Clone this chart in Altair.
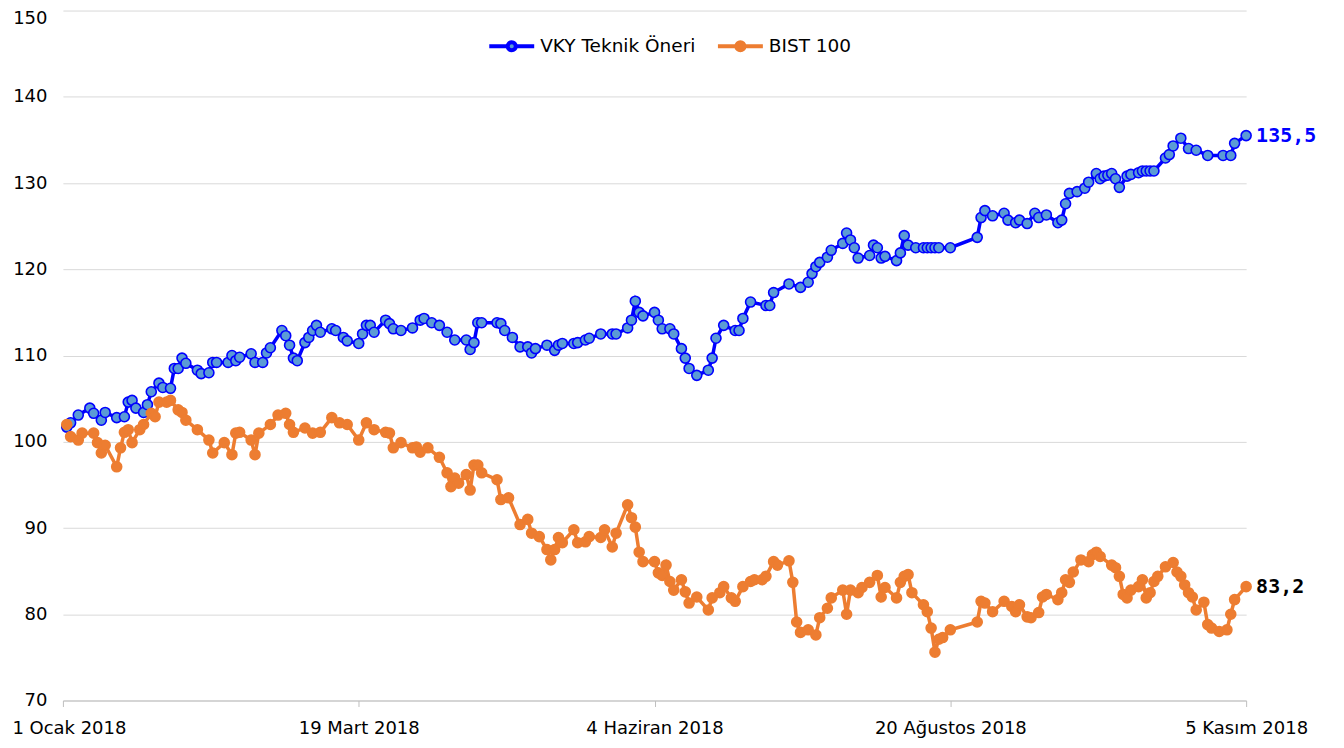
import json
import altair as alt
import pandas as pd

# ---- data ----
seri_adlari = ["VKY Teknik Öneri", "BIST 100"]

# days since 1 Ocak 2018 and index values
vky_gun = [1, 2, 4, 7, 8, 10, 11, 14, 16, 17, 18, 19, 21, 22, 23, 25, 26, 28, 29, 30,
           31, 32, 35, 36, 38, 39, 40, 43, 44, 45, 46, 49, 50, 52, 53, 54, 57, 58, 59, 60,
           61, 63, 64, 65, 66, 67, 70, 71, 73, 74, 77, 78, 79, 80, 81, 84, 85, 86, 88, 91,
           93, 94, 96, 98, 100, 102, 105, 106, 107, 108, 109, 113, 114, 115, 117, 119, 121, 122, 123, 126,
           128, 129, 130, 133, 134, 136, 137, 140, 143, 144, 147, 148, 149, 150, 151, 154, 155, 156, 158, 159,
           161, 162, 163, 165, 168, 169, 170, 172, 175, 176, 177, 179, 183, 184, 185, 189, 192, 194, 195, 196,
           197, 199, 200, 203, 204, 205, 206, 207, 210, 211, 212, 213, 214, 217, 218, 219, 220, 222, 224, 225,
           226, 227, 228, 231, 238, 239, 240, 242, 245, 246, 248, 249, 251, 253, 254, 256, 259, 260, 261, 262,
           264, 266, 267, 269, 270, 271, 272, 273, 274, 275, 277, 278, 280, 281, 282, 283, 284, 287, 288, 289,
           291, 293, 295, 298, 302, 304, 305, 308]
vky_deger = [101.7, 102.2, 103.1, 103.9, 103.3, 102.5, 103.4, 102.8, 102.9, 104.6, 104.8, 103.9, 103.4, 104.3, 105.8, 106.8, 106.3, 106.2, 108.5, 108.5,
             109.7, 109.1, 108.3, 107.9, 108.0, 109.2, 109.2, 109.2, 110.0, 109.4, 109.8, 110.2, 109.2, 109.2, 110.3, 110.9, 112.9, 112.3, 111.2, 109.7,
             109.4, 111.5, 112.1, 112.9, 113.5, 112.7, 113.1, 112.9, 112.1, 111.7, 111.4, 112.5, 113.5, 113.5, 112.7, 114.1, 113.7, 113.1, 112.9, 113.2,
             114.1, 114.3, 113.8, 113.5, 112.7, 111.8, 111.8, 110.7, 111.5, 113.8, 113.8, 113.8, 113.7, 112.9, 112.1, 111.0, 111.0, 110.3, 110.8, 111.2,
             110.6, 111.2, 111.4, 111.4, 111.5, 111.8, 112.0, 112.5, 112.5, 112.5, 113.2, 114.1, 116.3, 115.0, 114.6, 115.0, 114.1, 113.1, 113.1, 112.5,
             110.8, 109.7, 108.5, 107.7, 108.3, 109.7, 112.0, 113.5, 112.9, 112.9, 114.3, 116.2, 115.8, 115.8, 117.3, 118.3, 117.9, 118.5, 119.5, 120.3,
             120.8, 121.4, 122.2, 123.0, 124.2, 123.4, 122.5, 121.3, 121.6, 122.8, 122.5, 121.3, 121.5, 121.0, 121.9, 123.9, 122.8, 122.5, 122.5, 122.5,
             122.5, 122.5, 122.5, 122.5, 123.7, 126.0, 126.8, 126.2, 126.5, 125.7, 125.4, 125.7, 125.3, 126.5, 126.0, 126.3, 125.4, 125.7, 127.6, 128.8,
             129.0, 129.4, 130.1, 131.1, 130.5, 130.8, 130.9, 131.1, 130.5, 129.5, 130.8, 131.0, 131.2, 131.4, 131.4, 131.4, 131.4, 132.9, 133.3, 134.3,
             135.2, 134.0, 133.8, 133.2, 133.2, 133.2, 134.6, 135.5]

bist_gun = [1, 2, 4, 5, 8, 9, 10, 11, 14, 15, 16, 17, 18, 20, 21, 23, 24, 25, 27, 28,
            30, 31, 32, 35, 38, 39, 42, 44, 45, 46, 49, 50, 51, 54, 56, 58, 59, 60, 63, 65,
            67, 70, 72, 74, 77, 79, 81, 84, 85, 86, 88, 91, 92, 93, 95, 98, 100, 101, 102, 103,
            105, 106, 107, 108, 109, 113, 114, 116, 119, 121, 122, 124, 126, 127, 128, 129, 130, 133, 134, 136,
            137, 140, 141, 143, 144, 147, 148, 149, 150, 151, 154, 155, 156, 157, 158, 159, 161, 162, 163, 165,
            168, 169, 171, 172, 174, 175, 177, 179, 180, 182, 183, 185, 186, 189, 190, 191, 192, 194, 196, 197,
            199, 200, 203, 204, 205, 207, 208, 210, 212, 213, 214, 217, 218, 219, 220, 221, 224, 225, 226, 227,
            228, 229, 231, 238, 239, 240, 242, 245, 247, 248, 249, 251, 252, 254, 255, 256, 259, 260, 261, 262,
            263, 265, 267, 268, 269, 270, 273, 274, 275, 276, 277, 278, 280, 281, 282, 283, 284, 285, 287, 289,
            290, 291, 292, 293, 294, 295, 297, 298, 299, 301, 303, 304, 305, 308]
bist_deger = [102.0, 100.6, 100.2, 101.0, 101.0, 99.9, 98.7, 99.6, 97.1, 99.3, 101.1, 101.4, 99.9, 101.4, 102.0, 103.3, 102.9, 104.6, 104.6, 104.8,
              103.7, 103.4, 102.5, 101.4, 100.2, 98.7, 99.9, 98.5, 101.0, 101.1, 100.2, 98.5, 101.0, 102.0, 103.1, 103.3, 102.0, 101.1, 101.6, 101.0,
              101.1, 102.8, 102.2, 102.0, 100.2, 102.2, 101.4, 101.1, 101.0, 99.3, 99.9, 99.3, 99.4, 98.8, 99.3, 98.2, 96.4, 94.8, 95.8, 95.2,
              96.2, 94.4, 97.3, 97.3, 96.4, 95.6, 93.3, 93.5, 90.4, 91.0, 89.4, 89.0, 87.5, 86.3, 87.5, 88.9, 88.3, 89.8, 88.3, 88.4,
              89.0, 88.9, 89.8, 87.8, 89.4, 92.7, 91.2, 90.1, 87.2, 86.1, 86.1, 84.8, 84.5, 85.7, 83.8, 82.8, 84.0, 82.6, 81.3, 82.0,
              80.5, 81.9, 82.5, 83.2, 81.9, 81.5, 83.2, 83.8, 84.0, 84.0, 84.4, 86.1, 85.7, 86.2, 83.7, 79.1, 77.9, 78.2, 77.6, 79.6,
              80.7, 81.9, 82.8, 80.0, 82.8, 82.5, 83.1, 83.7, 84.5, 82.0, 83.1, 81.9, 83.7, 84.4, 84.6, 82.5, 81.1, 80.3, 78.4, 75.6,
              77.1, 77.3, 78.2, 79.1, 81.5, 81.3, 80.3, 81.5, 80.9, 80.3, 81.1, 79.7, 79.6, 80.2, 82.0, 82.3, 81.7, 82.5, 84.0, 83.7,
              84.9, 86.3, 86.1, 86.9, 87.2, 86.7, 85.7, 85.4, 84.4, 82.3, 81.9, 82.8, 83.2, 84.0, 81.9, 82.5, 83.8, 84.4, 85.5, 86.0,
              84.9, 84.4, 83.4, 82.5, 82.0, 80.5, 81.4, 78.8, 78.4, 78.0, 78.2, 80.0, 81.7, 83.2]

son_etiketler = ["135,5", "83,2"]

ay_adlari = ["Ocak", "Şubat", "Mart", "Nisan", "Mayıs", "Haziran", "Temmuz",
             "Ağustos", "Eylül", "Ekim", "Kasım", "Aralık"]
x_tikleri = [(2018, 1, 1), (2018, 3, 19), (2018, 6, 4), (2018, 8, 20), (2018, 11, 5)]
y_tikleri = [70, 80, 90, 100, 110, 120, 130, 140, 150]

# ---- build table ----
baslangic = pd.Timestamp("2018-01-01")
frames = []
for ad, gun, deger in [(seri_adlari[0], vky_gun, vky_deger), (seri_adlari[1], bist_gun, bist_deger)]:
    frames.append(pd.DataFrame({
        "seri": ad,
        "tarih": baslangic + pd.to_timedelta(gun, unit="D"),
        "deger": deger,
    }))
df = pd.concat(frames, ignore_index=True)

son = df.groupby("seri", sort=False).tail(1).copy()
son["etiket"] = son_etiketler

FONT = "DejaVu Sans"
BLUE = "#0000FF"
BLUE_FILL = "#5B9BD5"
ORANGE = "#ED7D31"

ay_js = json.dumps(ay_adlari, ensure_ascii=False)
x_axis = alt.Axis(
    values=[alt.DateTime(year=y, month=m, date=d) for (y, m, d) in x_tikleri],
    labelExpr=f"date(datum.value) + ' ' + {ay_js}[month(datum.value)] + ' ' + year(datum.value)",
    grid=False, domainColor="#bfbfbf", domainWidth=1, tickColor="#bfbfbf", tickSize=6,
    labelFontSize=18, labelColor="#000000", labelFont=FONT, labelPadding=13,
    labelOffset={"condition": {"test": "month(datum.value) == 0", "value": 6}, "value": 0},
    labelOverlap=False, labelFlush=False, title=None,
)
y_axis = alt.Axis(
    values=y_tikleri, grid=True, gridColor="#d9d9d9", gridWidth=1,
    domain=False, ticks=False, labelFontSize=18, labelColor="#000000", labelFont=FONT,
    labelPadding=16, title=None,
    labelOffset={"condition": {"test": "datum.value == 150", "value": 8}, "value": 0},
)

x_enc = alt.X("tarih:T", scale=alt.Scale(domain=[alt.DateTime(year=2018, month=1, date=1),
                                                alt.DateTime(year=2018, month=11, date=5)]),
              axis=x_axis)
y_enc = alt.Y("deger:Q", scale=alt.Scale(domain=[70, 150], nice=False, zero=False), axis=y_axis)

legend_path = ("M-1,0L-0.2,0M0.2,0L1,0"
               "M-0.18,0A0.18,0.18,0,1,1,0.18,0A0.18,0.18,0,1,1,-0.18,0Z")

stroke_enc = alt.Stroke("seri:N", scale=alt.Scale(domain=seri_adlari, range=[BLUE, ORANGE]),
                        legend=alt.Legend(
                            title=None, orient="none", direction="horizontal",
                            legendX=425, legendY=11,
                            symbolType=legend_path, symbolSize=2025, symbolStrokeWidth=4,
                            labelFontSize=18.5, labelFont=FONT, labelColor="#000000",
                            labelLimit=0, columnPadding=14, labelOffset=4,
                        ))
fill_enc = alt.Fill("seri:N", scale=alt.Scale(domain=seri_adlari, range=[BLUE_FILL, ORANGE]),
                    legend=None)

base = alt.Chart(df)
line = base.mark_line(strokeWidth=3.5).encode(x=x_enc, y=y_enc, stroke=stroke_enc)
points = base.mark_point(filled=True, size=100, strokeWidth=1.6, opacity=1).encode(
    x=x_enc, y=y_enc, stroke=alt.Stroke("seri:N", legend=None), fill=fill_enc
)
labels = alt.Chart(son).mark_text(
    align="left", baseline="middle", dx=10, fontSize=20, fontWeight="bold",
    font="DejaVu Sans Mono"
).encode(
    x=alt.X("tarih:T"), y=alt.Y("deger:Q"), text="etiket:N",
    color=alt.condition(alt.datum.seri == seri_adlari[0], alt.value(BLUE), alt.value("#000000")),
)

chart = alt.layer(line, points, labels).properties(
    width=1185, height=691,
    autosize=alt.AutoSizeParams(type="none"),
    padding={"left": 55, "top": 2, "right": 90, "bottom": 40},
).configure(font=FONT).configure_view(stroke=None)

chart.save("out.html", embed_options={"renderer": "svg", "actions": False})
